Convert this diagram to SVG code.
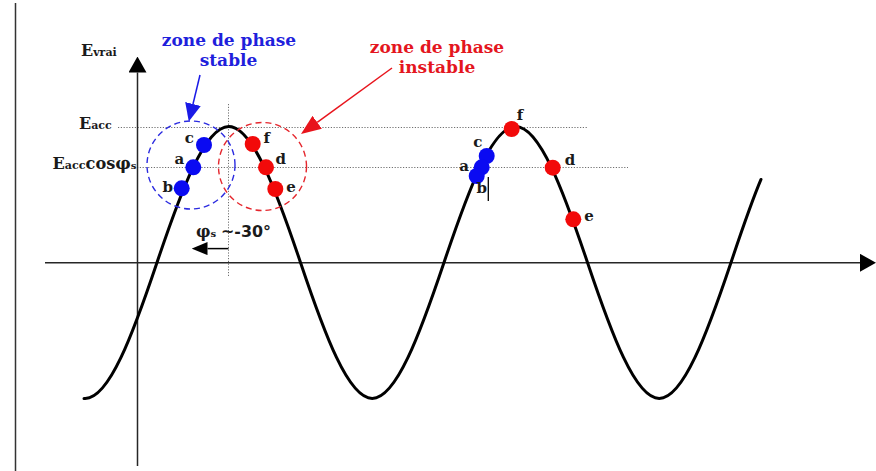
<svg xmlns="http://www.w3.org/2000/svg" width="876" height="471" viewBox="0 0 876 471">
<style>
.ax{stroke:#262626;stroke-width:1.5;fill:none}
.dot{stroke:#707070;stroke-width:1;stroke-dasharray:1.2 1.6;fill:none}
.curve{stroke:#000;stroke-width:3;fill:none;stroke-linecap:round;stroke-linejoin:round}
.zb{stroke:#2b2be0;stroke-width:1.4;stroke-dasharray:6 4;fill:none}
.zr{stroke:#e5262d;stroke-width:1.4;stroke-dasharray:6 4;fill:none}
.pb{fill:#0a0af2}
.pr{fill:#f20a0a}
.lbl{font-family:"DejaVu Serif","Liberation Serif",serif;font-weight:bold;font-size:15px;fill:#1a1a1a;text-anchor:middle}
.ser{font-family:"DejaVu Serif","Liberation Serif",serif;font-weight:bold;fill:#1a1a1a}
.zone{font-family:"DejaVu Serif","Liberation Serif",serif;font-weight:bold;font-size:17px;text-anchor:middle}
.sans{font-family:"DejaVu Sans","Liberation Sans",sans-serif;font-weight:bold;fill:#1a1a1a}
</style>
<defs>
<marker id="mAx" viewBox="0 0 16 18" markerWidth="16" markerHeight="18" refX="0" refY="9" orient="auto" markerUnits="userSpaceOnUse"><path d="M0,0 L16,9 L0,18 z" fill="#000"/></marker>
<marker id="mPhi" viewBox="0 0 16 13" markerWidth="16" markerHeight="13" refX="0" refY="6.5" orient="auto" markerUnits="userSpaceOnUse"><path d="M0,0 L16,6.5 L0,13 z" fill="#000"/></marker>
<marker id="mBlue" viewBox="0 0 18 16" markerWidth="18" markerHeight="16" refX="0" refY="8" orient="auto" markerUnits="userSpaceOnUse"><path d="M0,0 L18,8 L0,16 z" fill="#1a1ae6"/></marker>
<marker id="mRed" viewBox="0 0 20 16" markerWidth="20" markerHeight="16" refX="0" refY="8" orient="auto" markerUnits="userSpaceOnUse"><path d="M0,0 L20,8 L0,16 z" fill="#e8141c"/></marker>
</defs>
<rect width="876" height="471" fill="#fff"/>
<line x1="15.5" y1="3" x2="15.5" y2="471" stroke="#333" stroke-width="1.5"/>
<g id="guides">
<line class="dot" x1="118" y1="127.5" x2="587" y2="127.5"/>
<line class="dot" x1="137" y1="167.5" x2="628" y2="167.5"/>
<line class="dot" x1="228.5" y1="104" x2="228.5" y2="277"/>
</g>
<g id="connectors">
<line class="ax" x1="137.5" y1="466" x2="137.5" y2="72.5" marker-end="url(#mAx)"/>
<line class="ax" x1="45" y1="262.8" x2="860" y2="262.8" marker-end="url(#mAx)"/>
<line x1="228.5" y1="248.6" x2="207.5" y2="248.6" stroke="#000" stroke-width="1.5" marker-end="url(#mPhi)"/>
<line x1="200" y1="75" x2="193" y2="104" stroke="#1a1ae6" stroke-width="1.5" marker-end="url(#mBlue)"/>
<line x1="392" y1="68" x2="317.2" y2="122.3" stroke="#e8141c" stroke-width="1.5" marker-end="url(#mRed)"/>
</g>
<g id="curve">
<path class="curve" d="M84,398.5 L85.25,398.5 C109.17,398.5 133.08,333.7 157,262.5 C180.92,191.3 204.83,126.5 228.75,126.5 C252.67,126.5 276.58,191.3 300.5,262.5 C324.42,333.7 348.33,398.5 372.25,398.5 C396.17,398.5 420.08,333.7 444,262.5 C467.92,191.3 491.83,126.5 515.75,126.5 C539.67,126.5 563.58,191.3 587.5,262.5 C611.42,333.7 635.33,398.5 659.25,398.5 C683.17,398.5 707.08,333.7 731,262.5 C741,232.73 751,203.04 761,179.46"/>
</g>
<g id="zone-stable">
<circle class="zb" cx="191" cy="165" r="44"/>
<text class="zone" fill="#1f1fdc" x="229" y="46">zone de phase</text>
<text class="zone" fill="#1f1fdc" x="228.5" y="65.5">stable</text>
</g>
<g id="zone-instable">
<circle class="zr" cx="262.5" cy="166.5" r="44"/>
<text class="zone" fill="#e4161e" x="437" y="53">zone de phase</text>
<text class="zone" fill="#e4161e" x="437" y="72.5">instable</text>
</g>
<g id="points-1">
<circle class="pb" cx="204" cy="145" r="8"/>
<circle class="pb" cx="193.3" cy="167.3" r="8"/>
<circle class="pb" cx="181.7" cy="188.3" r="8"/>
<circle class="pr" cx="252.7" cy="144" r="8"/>
<circle class="pr" cx="266" cy="167.3" r="8"/>
<circle class="pr" cx="275.3" cy="189" r="8"/>
<text class="lbl" x="189.3" y="143.3">c</text>
<text class="lbl" x="179.3" y="164">a</text>
<text class="lbl" x="167.7" y="192.3">b</text>
<text class="lbl" x="266.7" y="143.3">f</text>
<text class="lbl" x="280.7" y="164">d</text>
<text class="lbl" x="291" y="191.7">e</text>
</g>
<g id="points-2">
<circle class="pb" cx="486.7" cy="156" r="8"/>
<circle class="pb" cx="481.7" cy="167.3" r="8"/>
<circle class="pb" cx="476.7" cy="176" r="8"/>
<circle class="pr" cx="511.7" cy="129" r="8"/>
<circle class="pr" cx="552.7" cy="167.7" r="8"/>
<circle class="pr" cx="573.3" cy="219.3" r="8"/>
<line x1="488.3" y1="177" x2="488.3" y2="201" stroke="#000" stroke-width="1.3"/>
<text class="lbl" x="477.7" y="147.3">c</text>
<text class="lbl" x="464" y="171.3">a</text>
<text class="lbl" x="481.7" y="193.3">b</text>
<text class="lbl" x="520" y="120">f</text>
<text class="lbl" x="570" y="165">d</text>
<text class="lbl" x="589" y="220.7">e</text>
</g>
<g id="axis-labels">
<text class="ser" x="81" y="56" font-size="16">E<tspan font-size="11">vrai</tspan></text>
<text class="ser" x="79" y="129.3" font-size="16">E<tspan font-size="11">acc</tspan></text>
<text class="ser" x="52.5" y="169.3" font-size="16" textLength="84" lengthAdjust="spacingAndGlyphs">E<tspan font-size="11">acc</tspan>cos<tspan font-size="17">φ</tspan><tspan font-size="10">s</tspan></text>
</g>
<g id="phase-label">
<text class="ser" x="196" y="236.7" font-size="16">φ<tspan font-size="10">s</tspan></text>
<text class="sans" x="221" y="236.7" font-size="15" textLength="50" lengthAdjust="spacingAndGlyphs">~-30°</text>
</g>
</svg>
